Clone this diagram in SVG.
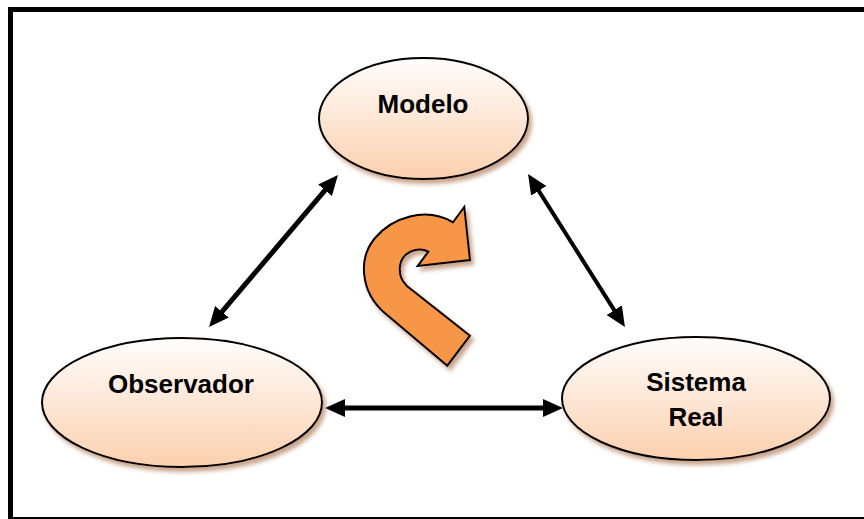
<svg xmlns="http://www.w3.org/2000/svg" width="864" height="519" viewBox="0 0 864 519">
  <defs>
    <linearGradient id="peach" x1="0" y1="0" x2="0" y2="1">
      <stop offset="0" stop-color="#fffdfc"/>
      <stop offset="0.45" stop-color="#fde9da"/>
      <stop offset="1" stop-color="#fbd0ae"/>
    </linearGradient>
    <filter id="shadow" x="-10%" y="-10%" width="125%" height="130%">
      <feGaussianBlur in="SourceAlpha" stdDeviation="2.2"/>
      <feOffset dx="3" dy="4" result="blur"/>
      <feFlood flood-color="#9a5a2e" flood-opacity="0.55"/>
      <feComposite in2="blur" operator="in"/>
      <feMerge>
        <feMergeNode/>
        <feMergeNode in="SourceGraphic"/>
      </feMerge>
    </filter>
    <marker id="head" viewBox="0 0 20 18" markerUnits="userSpaceOnUse" markerWidth="20" markerHeight="18" refX="10" refY="9" orient="auto-start-reverse">
      <path d="M0,0 L20,9 L0,18 z" fill="#000"/>
    </marker>
    <style>
      .node { fill: url(#peach); stroke: #000; stroke-width: 2; filter: url(#shadow); }
      .label { font-family: "Liberation Sans", Arial, sans-serif; font-weight: bold; font-size: 26px; fill: #000; text-anchor: middle; }
      .link { stroke: #000; fill: none; marker-start: url(#head); marker-end: url(#head); }
    </style>
  </defs>

  <rect width="864" height="519" fill="#fff"/>
  <!-- outer frame -->
  <rect x="10.5" y="9.5" width="870" height="510" fill="none" stroke="#000" stroke-width="5"/>

  <g id="connectors">
    <line class="link" x1="215.5" y1="319.4" x2="331.5" y2="182.6" stroke-width="5"/>
    <line class="link" x1="533.4" y1="182.4" x2="619.6" y2="318.6" stroke-width="4"/>
    <line class="link" x1="335" y1="408" x2="553" y2="408" stroke-width="5"/>
  </g>

  <!-- cycle arrow -->
  <g id="cycle">
    <path d="M464.3,207 L470,260 L417.7,266 L428.3,251.7 C418,246 402,252 400,266 C399,276 402,281 407,286 L470,335.7 L447.3,365.7 L385,313.3 C360,292 358,258 375,238 C392,218 425,206 453,222.3 Z" fill="#f79646" stroke="#000" stroke-width="2" stroke-linejoin="miter" filter="url(#shadow)"/>
  </g>

  <g id="modelo">
    <ellipse class="node" cx="423.5" cy="118.5" rx="104.5" ry="60.5"/>
    <text class="label" x="423" y="113">Modelo</text>
  </g>

  <g id="observador">
    <ellipse class="node" cx="182" cy="402.5" rx="140" ry="64.5"/>
    <text class="label" x="181" y="393">Observador</text>
  </g>

  <g id="sistema-real">
    <ellipse class="node" cx="696" cy="398.5" rx="134" ry="61.5"/>
    <text class="label" x="696" y="391">Sistema</text>
    <text class="label" x="696" y="426">Real</text>
  </g>
</svg>
